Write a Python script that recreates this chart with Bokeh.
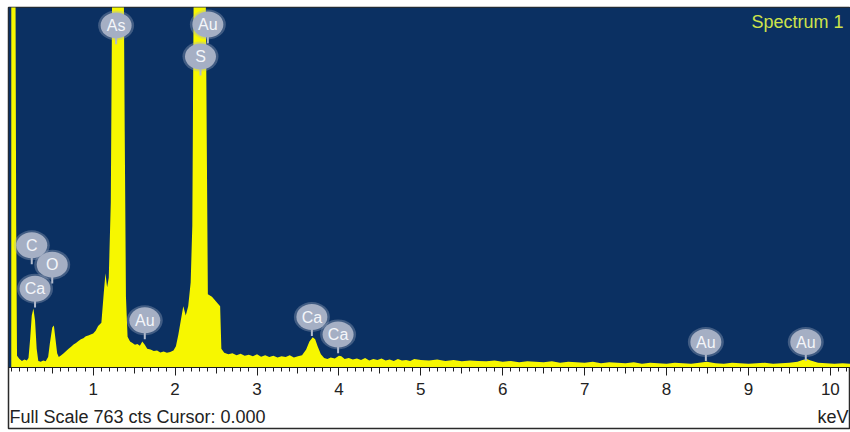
from bokeh.plotting import figure
from bokeh.models import (Range1d, FixedTicker, Label, LinearAxis, BoxAnnotation,
                          CustomJSTickFormatter)
from bokeh.embed import file_html
from bokeh.resources import INLINE
from bokeh.core.properties import value
import numpy as np

# ---- data (keV, counts) ----
energy_kev = [
    0.00, 0.03, 0.05, 0.06, 0.07, 0.10, 0.13, 0.16, 0.19, 0.21,
    0.23, 0.25, 0.27, 0.29, 0.31, 0.33, 0.36, 0.39, 0.42, 0.45,
    0.47, 0.50, 0.52, 0.54, 0.56, 0.58, 0.61, 0.64, 0.67, 0.70,
    0.73, 0.76, 0.79, 0.82, 0.85, 0.88, 0.91, 0.94, 0.97, 1.00,
    1.03, 1.06, 1.10, 1.13, 1.15, 1.17, 1.19, 1.215, 1.235, 1.29,
    1.37, 1.385, 1.40, 1.42, 1.45, 1.48, 1.51, 1.54, 1.57, 1.60,
    1.63, 1.66, 1.70, 1.74, 1.78, 1.82, 1.86, 1.90, 1.94, 1.98,
    2.01, 2.04, 2.07, 2.10, 2.13, 2.16, 2.19, 2.21, 2.23, 2.30,
    2.37, 2.39, 2.40, 2.45, 2.50, 2.55, 2.565, 2.60, 2.65, 2.70,
    2.75, 2.80, 2.85, 2.90, 2.95, 3.00, 3.05, 3.10, 3.15, 3.20,
    3.25, 3.30, 3.35, 3.40, 3.45, 3.50, 3.55, 3.60, 3.64, 3.68,
    3.71, 3.74, 3.78, 3.82, 3.86, 3.90, 3.95, 4.00, 4.03, 4.07,
    4.12, 4.17, 4.22, 4.27, 4.32, 4.37, 4.42, 4.47, 4.52, 4.57,
    4.62, 4.67, 4.72, 4.77, 4.82, 4.87, 4.92, 5.00, 5.10, 5.20,
    5.30, 5.40, 5.50, 5.60, 5.70, 5.80, 5.90, 6.00, 6.10, 6.20,
    6.30, 6.40, 6.50, 6.60, 6.70, 6.80, 6.90, 7.00, 7.10, 7.20,
    7.30, 7.40, 7.50, 7.60, 7.70, 7.80, 7.90, 8.00, 8.10, 8.20,
    8.30, 8.40, 8.49, 8.60, 8.70, 8.80, 8.90, 9.00, 9.10, 9.20,
    9.30, 9.40, 9.50, 9.60, 9.66, 9.71, 9.76, 9.85, 9.95, 10.05,
    10.15, 10.25,
]
counts = [
    900, 900, 900, 300, 25, 18, 14, 17, 15, 20,
    60, 110, 125, 100, 40, 14, 12, 15, 13, 22,
    50, 85, 89, 60, 30, 22, 26, 30, 35, 40,
    44, 49, 52, 56, 60, 62, 66, 68, 70, 72,
    78, 88, 95, 160, 200, 170, 190, 350, 900, 900,
    900, 500, 150, 65, 55, 52, 48, 50, 46, 55,
    48, 40, 38, 35, 36, 32, 34, 31, 33, 36,
    45, 70, 100, 130, 110, 130, 180, 300, 900, 900,
    900, 400, 155, 150, 140, 130, 40, 31, 28, 30,
    26, 29, 25, 27, 24, 28, 23, 26, 22, 25,
    21, 24, 22, 26, 21, 24, 26, 38, 55, 64,
    60, 45, 28, 20, 18, 21, 19, 25, 24, 18,
    20, 17, 19, 16, 20, 15, 18, 16, 19, 15,
    17, 14, 18, 15, 16, 14, 18, 16, 15, 17,
    14, 16, 13, 15, 14, 13, 15, 12, 14, 11,
    13, 12, 11, 13, 10, 12, 11, 10, 12, 9,
    11, 10, 9, 11, 8, 10, 9, 8, 10, 9,
    8, 10, 12, 9, 8, 10, 9, 8, 9, 10,
    8, 9, 10, 12, 16, 18, 15, 10, 9, 8,
    9, 8,
]
full_scale_cts = 763

# element markers
label_names = ["C", "O", "Ca", "As", "Au", "S", "Au", "Ca", "Ca", "Au", "Au"]
label_kev = [0.25, 0.50, 0.29, 1.28, 1.63, 2.31, 2.40, 3.67, 3.99, 8.48, 9.70]
label_cts = [259, 218, 167, 725, 100, 659, 727, 107, 70, 54, 54]

tick_kev = [1, 2, 3, 4, 5, 6, 7, 8, 9, 10]
half_tick_kev = [0.5, 1.5, 2.5, 3.5, 4.5, 5.5, 6.5, 7.5, 8.5, 9.5]
minor_tick_kev = [round(i * 0.1, 1) for i in range(0, 103)]

BG = "#0b3062"
YEL = "#f7f700"
BALLOON = "#a5afc4"
INK = "#1e1e1e"

# frame spans the whole box; counts axis: 360 px for full scale, 61 px below zero
y_low = -full_scale_cts * 61.0 / 360.0

p = figure(width=850, height=432, output_backend="svg", toolbar_location=None,
           x_range=Range1d(-0.034, 10.246), y_range=Range1d(y_low, full_scale_cts),
           x_axis_location=None, y_axis_location=None,
           min_border_left=8, min_border_right=0, min_border_top=7, min_border_bottom=4)
p.background_fill_color = "white"
p.border_fill_color = "white"
p.outline_line_color = "#2a2a2a"
p.outline_line_width = 1.5
p.grid.visible = False

# dark spectrum area above zero counts
p.add_layout(BoxAnnotation(bottom=0, fill_color=BG, fill_alpha=1.0, line_color=None,
                           level="underlay"))

# spectrum
p.varea(x=energy_kev, y1=0, y2=counts, fill_color=YEL)

# element balloons
stem_bottom = np.array(label_cts) - 40
p.segment(x0=label_kev, y0=label_cts, x1=label_kev, y1=stem_bottom,
          line_color="#b3bccd", line_width=2)
p.ellipse(x=label_kev, y=label_cts, width=36, height=30, width_units="screen",
          height_units="screen", fill_color=BALLOON, fill_alpha=0.35, line_color=None)
p.ellipse(x=label_kev, y=label_cts, width=31, height=26, width_units="screen",
          height_units="screen", fill_color=BALLOON, line_color=None)
p.text(x=label_kev, y=label_cts, text=label_names, text_align="center",
       text_baseline="middle", text_font=value("Liberation Sans"),
       text_font_size=value("16px"), text_color="#f4f6fa")

# energy axis drawn at zero counts
ax = LinearAxis(fixed_location=0)
ax.ticker = FixedTicker(ticks=tick_kev, minor_ticks=minor_tick_kev)
ax.major_tick_out = 8
ax.major_tick_in = 0
ax.minor_tick_out = 4
ax.minor_tick_in = 0
ax.axis_line_color = INK
ax.major_tick_line_color = INK
ax.minor_tick_line_color = INK
ax.major_label_text_font = "Liberation Sans"
ax.major_label_text_font_size = "17px"
ax.major_label_text_color = "#222222"
ax.major_label_standoff = 7
p.add_layout(ax, "below")

# medium half-keV ticks (no labels)
ax_half = LinearAxis(fixed_location=0)
ax_half.ticker = FixedTicker(ticks=half_tick_kev, minor_ticks=[])
ax_half.formatter = CustomJSTickFormatter(code="return '';")
ax_half.major_tick_out = 6
ax_half.major_tick_in = 0
ax_half.minor_tick_line_color = None
ax_half.axis_line_color = None
ax_half.major_tick_line_color = INK
p.add_layout(ax_half, "below")

# texts
p.add_layout(Label(x=835, y=407, x_units="screen", y_units="screen", text="Spectrum 1",
                   text_align="right", text_baseline="alphabetic",
                   text_font="Liberation Sans", text_font_size="18px",
                   text_color="#cfe34a"))
p.add_layout(Label(x=1, y=12, x_units="screen", y_units="screen",
                   text="Full Scale 763 cts Cursor: 0.000",
                   text_align="left", text_baseline="alphabetic",
                   text_font="Liberation Sans", text_font_size="18px",
                   text_color="#222222"))
p.add_layout(Label(x=840, y=12, x_units="screen", y_units="screen", text="keV",
                   text_align="right", text_baseline="alphabetic",
                   text_font="Liberation Sans", text_font_size="18px",
                   text_color="#222222"))

open("out.html", "w").write(file_html(p, INLINE))
